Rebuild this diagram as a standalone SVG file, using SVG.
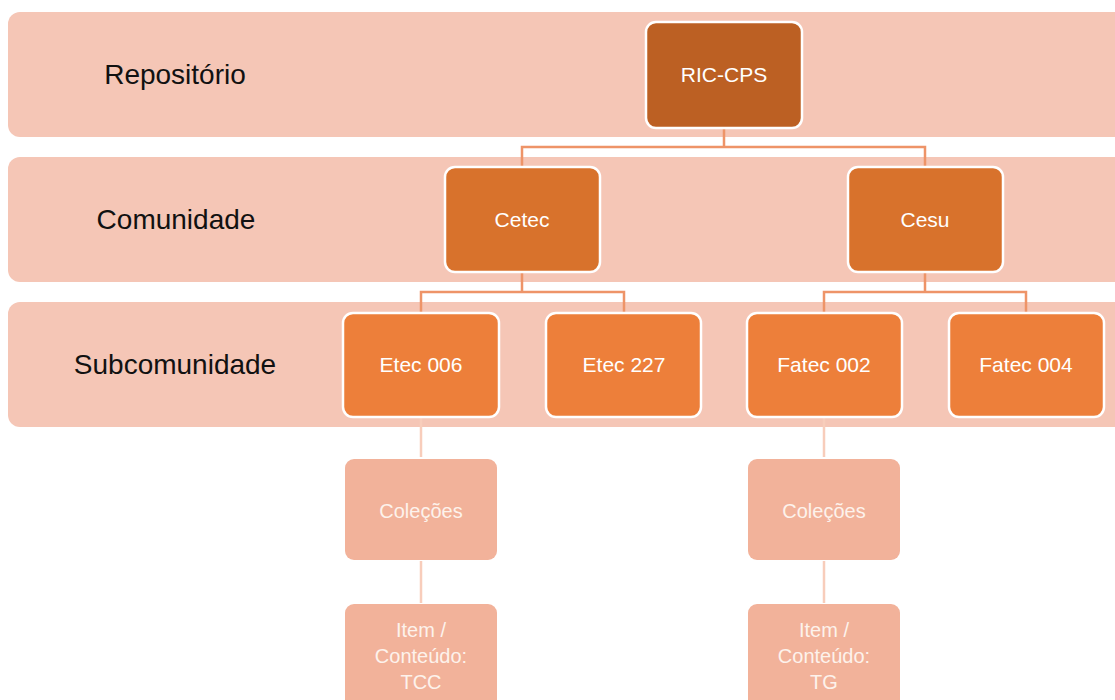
<svg xmlns="http://www.w3.org/2000/svg" width="1115" height="700" viewBox="0 0 1115 700">
<style>
.band{fill:#F5C6B6}
.lbl{font-family:"Liberation Sans",Arial,sans-serif;font-size:28px;fill:#111;text-anchor:middle}
.nt{font-family:"Liberation Sans",Arial,sans-serif;font-size:21px;fill:#FFFFFF;text-anchor:middle}
.nt2{font-family:"Liberation Sans",Arial,sans-serif;font-size:20px;fill:#FDF2EC;text-anchor:middle}
.l0{fill:#BC6023;stroke:#fff;stroke-width:2.5}
.l1{fill:#D8722C;stroke:#fff;stroke-width:2.5}
.l2{fill:#ED7F3A;stroke:#fff;stroke-width:2.5}
.l3{fill:#F2B29A}
.c{fill:none;stroke:#EE9468;stroke-width:2.5}
.c2{fill:none;stroke:#F8CDBB;stroke-width:2.5}
</style>
<rect width="1115" height="700" fill="#fff"/>
<g id="bands">
<rect class="band" x="8" y="12" width="1130" height="125" rx="12"/>
<rect class="band" x="8" y="157" width="1130" height="125" rx="12"/>
<rect class="band" x="8" y="302" width="1130" height="125" rx="12"/>
<text class="lbl" x="175" y="84">Repositório</text>
<text class="lbl" x="176" y="229">Comunidade</text>
<text class="lbl" x="175" y="374">Subcomunidade</text>
</g>
<g id="connectors">
<path class="c" d="M724 128 V147 M522 167 V147 H925 V167"/>
<path class="c" d="M522 272 V292 M421 313 V292 H624 V313"/>
<path class="c" d="M925 272 V292 M824 313 V292 H1026 V313"/>
<path class="c2" d="M421 417 V457 M421 561 V603"/>
<path class="c2" d="M824 417 V457 M824 561 V603"/>
</g>
<g id="ric-cps"><rect class="l0" x="646" y="22" width="156" height="106" rx="10"/><text class="nt" x="724" y="82">RIC-CPS</text></g>
<g id="cetec"><rect class="l1" x="445" y="167" width="155" height="105" rx="10"/><text class="nt" x="522" y="227">Cetec</text></g>
<g id="cesu"><rect class="l1" x="848" y="167" width="155" height="105" rx="10"/><text class="nt" x="925" y="227">Cesu</text></g>
<g id="etec006"><rect class="l2" x="343" y="313" width="156" height="104" rx="10"/><text class="nt" x="421" y="372">Etec 006</text></g>
<g id="etec227"><rect class="l2" x="546" y="313" width="155" height="104" rx="10"/><text class="nt" x="624" y="372">Etec 227</text></g>
<g id="fatec002"><rect class="l2" x="747" y="313" width="155" height="104" rx="10"/><text class="nt" x="824" y="372">Fatec 002</text></g>
<g id="fatec004"><rect class="l2" x="949" y="313" width="155" height="104" rx="10"/><text class="nt" x="1026" y="372">Fatec 004</text></g>
<g id="colecoes1"><rect class="l3" x="345" y="459" width="152" height="101" rx="9"/><text class="nt2" x="421" y="518">Coleções</text></g>
<g id="colecoes2"><rect class="l3" x="748" y="459" width="152" height="101" rx="9"/><text class="nt2" x="824" y="518">Coleções</text></g>
<g id="item1"><rect class="l3" x="345" y="604" width="152" height="110" rx="9"/><text class="nt2" x="421" y="637">Item /</text><text class="nt2" x="421" y="663">Conteúdo:</text><text class="nt2" x="421" y="689">TCC</text></g>
<g id="item2"><rect class="l3" x="748" y="604" width="152" height="110" rx="9"/><text class="nt2" x="824" y="637">Item /</text><text class="nt2" x="824" y="663">Conteúdo:</text><text class="nt2" x="824" y="689">TG</text></g>
</svg>
